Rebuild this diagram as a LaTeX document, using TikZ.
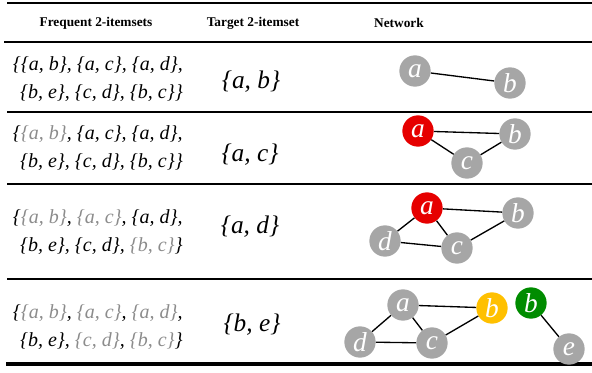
\documentclass[tikz,border=0pt]{standalone}
\usepackage{fontspec}
\setmainfont{Liberation Serif}
\usepackage{xcolor}
\definecolor{nodegray}{HTML}{A6A6A6}
\definecolor{textgray}{HTML}{8C8C8C}
\definecolor{hotred}{HTML}{E60000}
\definecolor{amber}{HTML}{FFC000}
\definecolor{deepgreen}{HTML}{008C00}
\newcommand{\used}[1]{\textcolor{textgray}{#1}}

\begin{document}
\begin{tikzpicture}[x=0.75pt,y=-0.75pt,
  item/.style={circle,fill=nodegray,text=white,minimum size=23.5pt,inner sep=0pt,
    font=\fontsize{20.5}{20.5}\selectfont\itshape},
  head/.style={font=\fontsize{10}{12}\selectfont\bfseries},
  sets/.style={anchor=east,align=right,inner sep=0pt,font=\fontsize{15}{21.5}\selectfont\itshape},
  target/.style={font=\fontsize{19}{23}\selectfont\itshape},
  link/.style={draw,line width=1pt}]
  \useasboundingbox (0,0) rectangle (592,373);
  \draw[line width=2.2pt] (7,3) -- (592,3);
  \draw[line width=2.2pt] (4,42) -- (592,42);
  \draw[line width=1.4pt] (7,112) -- (592,112);
  \draw[line width=1.4pt] (7,184) -- (592,184);
  \draw[line width=1.4pt] (7,279) -- (592,279);
  \draw[line width=2.8pt] (6,364) -- (592,364);

  \node[head] (h1) at (96,23) {Frequent 2-itemsets};
  \node[head] (h2) at (253,23) {Target 2-itemset};
  \node[head] (h3) at (399,23) {Network};

  \node[sets] (s1) at (183,79) {\{\{a, b\}, \{a, c\}, \{a, d\},\\ \{b, e\}, \{c, d\}, \{b, c\}\}};
  \node[sets] (s2) at (183,148) {\{\used{\{a, b\}}, \{a, c\}, \{a, d\},\\ \{b, e\}, \{c, d\}, \{b, c\}\}};
  \node[sets] (s3) at (183,232) {\{\used{\{a, b\}}, \used{\{a, c\}}, \{a, d\},\\ \{b, e\}, \{c, d\}, \used{\{b, c\}}\}};
  \node[sets] (s4) at (183,327) {\{\used{\{a, b\}}, \used{\{a, c\}}, \used{\{a, d\}},\\ \{b, e\}, \used{\{c, d\}}, \used{\{b, c\}}\}};

  \node[target] (t1) at (251,82) {\{a, b\}};
  \node[target] (t2) at (250,155) {\{a, c\}};
  \node[target] (t3) at (250,227) {\{a, d\}};
  \node[target] (t4) at (252,325) {\{b, e\}};

  \node[item] (a1) at (415,71) {a};
  \node[item] (b1) at (510,83) {b};
  \draw[link] (a1) -- (b1);

  \node[item,fill=hotred] (a2) at (418,131) {a};
  \node[item] (b2) at (515,134) {b};
  \node[item] (c2) at (467,163) {c};
  \draw[link] (a2) -- (b2);
  \draw[link] (a2) -- (c2);
  \draw[link] (c2) -- (b2);

  \node[item,fill=hotred] (a3) at (427,208) {a};
  \node[item] (b3) at (518,213) {b};
  \node[item] (d3) at (385,241) {d};
  \node[item] (c3) at (457,248) {c};
  \draw[link] (a3) -- (b3);
  \draw[link] (a3) -- (d3);
  \draw[link] (a3) -- (c3);
  \draw[link] (d3) -- (c3);
  \draw[link] (c3) -- (b3);

  \node[item] (a4) at (403,305) {a};
  \node[item,fill=amber] (b4) at (492,308) {b};
  \node[item,fill=deepgreen] (g4) at (531,303) {b};
  \node[item] (d4) at (360,342) {d};
  \node[item] (c4) at (432,343) {c};
  \node[item] (e4) at (569,349) {e};
  \draw[link] (a4) -- (b4);
  \draw[link] (a4) -- (d4);
  \draw[link] (a4) -- (c4);
  \draw[link] (d4) -- (c4);
  \draw[link] (c4) -- (b4);
  \draw[link] (g4) -- (e4);
\end{tikzpicture}
\end{document}
